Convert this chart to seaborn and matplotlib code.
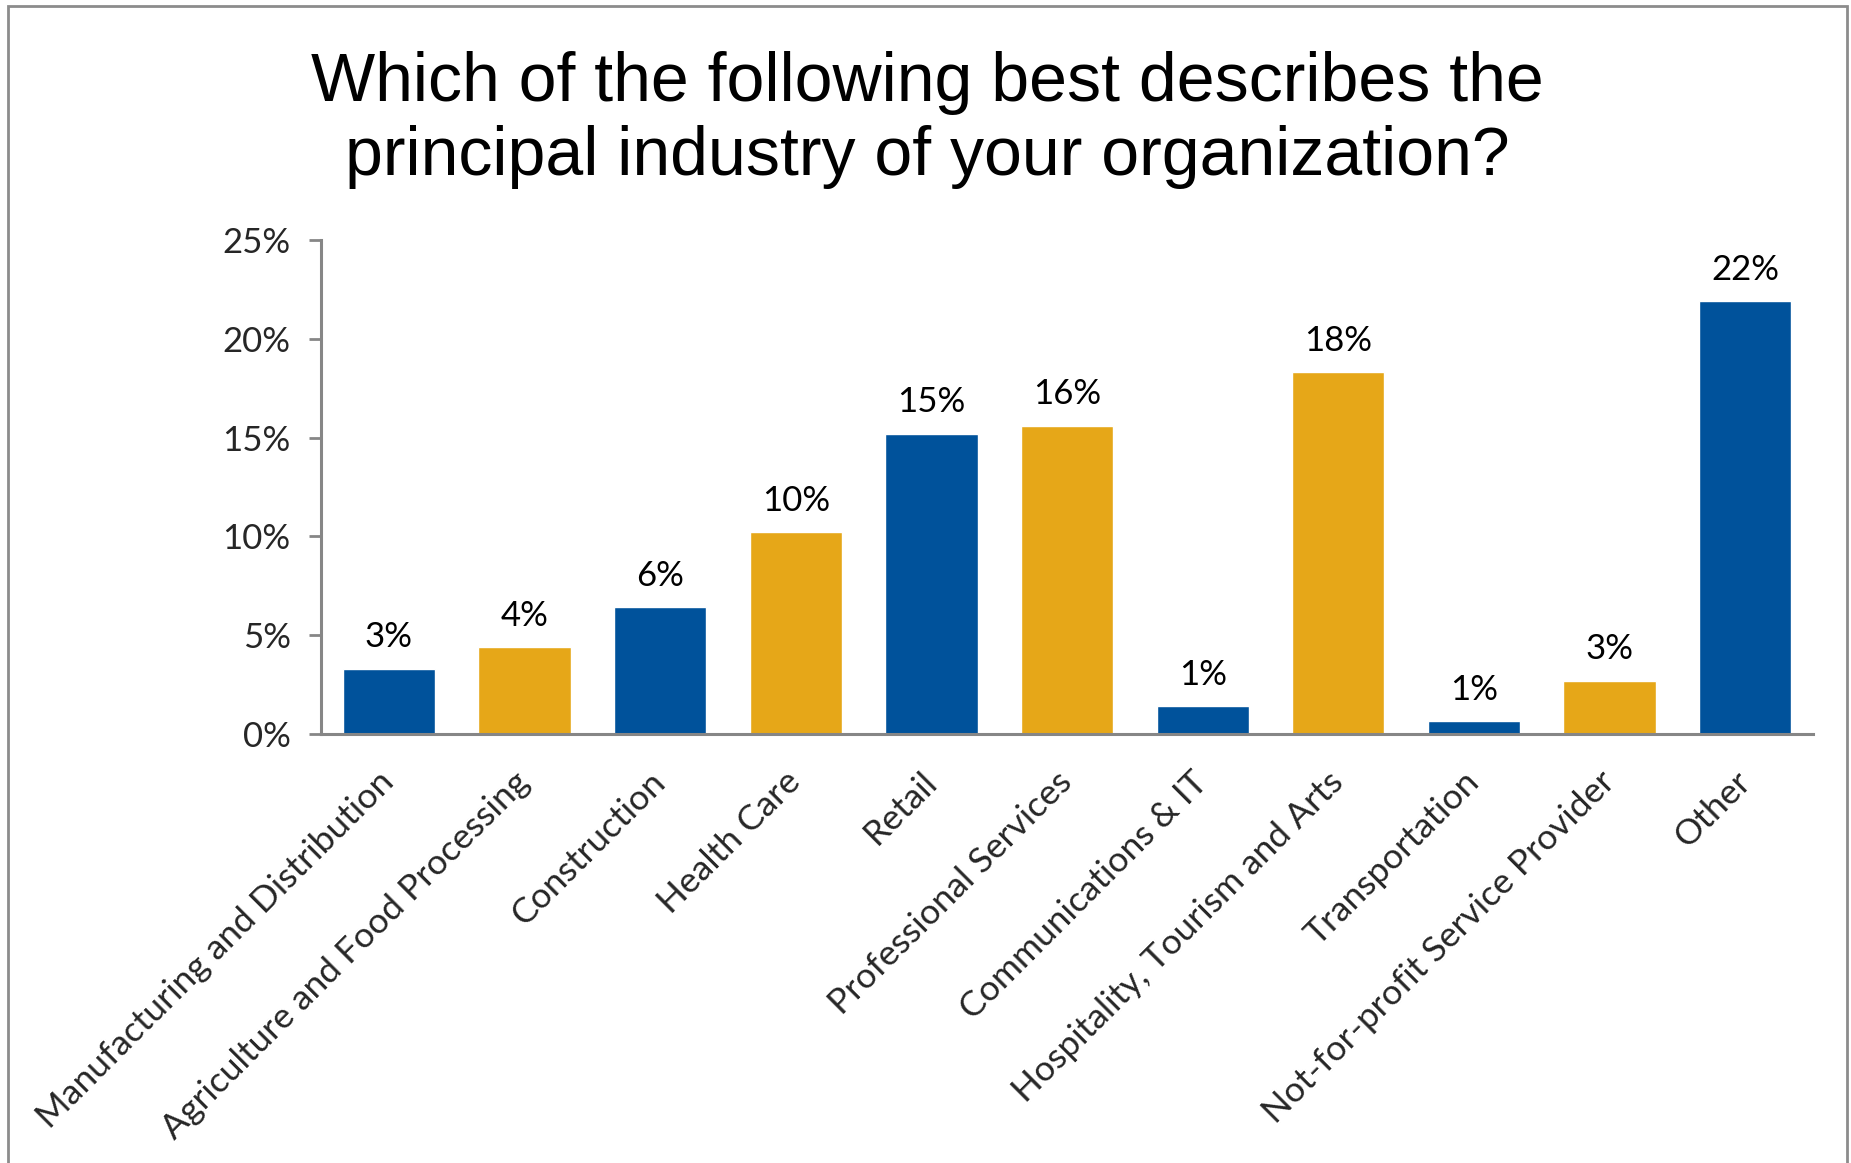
import matplotlib
matplotlib.use("Agg")
import matplotlib.pyplot as plt
import seaborn as sns
import pandas as pd
from matplotlib.patches import Rectangle

# values (percent of respondents)
industries = [
    "Manufacturing and Distribution",
    "Agriculture and Food Processing",
    "Construction",
    "Health Care",
    "Retail",
    "Professional Services",
    "Communications & IT",
    "Hospitality, Tourism and Arts",
    "Transportation",
    "Not-for-profit Service Provider",
    "Other",
]
shares = [3.3, 4.4, 6.4, 10.2, 15.2, 15.6, 1.4, 18.3, 0.66, 2.7, 21.9]
y_ticks = [0, 5, 10, 15, 20, 25]

BLUE = "#00529B"
GOLD = "#E6A718"
GRAY = "#868686"
bar_colors = [BLUE if i % 2 == 0 else GOLD for i in range(len(industries))]

df = pd.DataFrame({"industry": industries, "share": shares})

sns.set_theme(style="white")
plt.rcParams["font.family"] = ["Lato", "DejaVu Sans"]

fig = plt.figure(figsize=(18.51, 11.63), dpi=100)
ax = fig.add_axes([0.1735, 0.369, 0.806, 0.4246])

sns.barplot(data=df, x="industry", y="share", hue="industry", palette=bar_colors,
            legend=False, width=0.68, saturation=1, ax=ax)

for cont in ax.containers:
    ax.bar_label(cont, labels=[f"{v:.0f}%" for v in cont.datavalues],
                 padding=11, fontsize=25, color="black")

ax.set_xlim(-0.5, len(industries) - 0.5)
ax.set_ylim(0, 25)
ax.set_yticks(y_ticks)
ax.set_yticklabels([f"{t}%" for t in y_ticks], fontsize=25)
ax.set_xlabel("")
ax.set_ylabel("")

ax.set_xticks(range(len(industries)))
ax.set_xticklabels(industries, rotation=45, ha="right", va="center",
                   rotation_mode="anchor", fontsize=25.5)
ax.set_xticks([i - 0.5 for i in range(len(industries) + 1)], minor=True)
ax.tick_params(axis="x", which="major", length=0, pad=31)
ax.tick_params(axis="x", which="minor", length=10, width=2, color=GRAY, direction="out")
ax.tick_params(axis="y", length=9, width=2, color=GRAY, direction="out", pad=13, left=True)

for side in ["top", "right"]:
    ax.spines[side].set_visible(False)
for side in ["left", "bottom"]:
    ax.spines[side].set_color(GRAY)
    ax.spines[side].set_linewidth(2.2)

fig.text(0.501, 0.897,
         "Which of the following best describes the\nprincipal industry of your organization?",
         ha="center", va="center", fontsize=49, linespacing=1.2,
         family=["Liberation Sans", "DejaVu Sans"], color="black")

# outer chart frame
fig.patches.append(Rectangle((0.0045, -0.02), 0.9935, 1.015, transform=fig.transFigure,
                             fill=False, edgecolor="#8C8C8C", linewidth=2))

fig.savefig("out.png", dpi=100)
